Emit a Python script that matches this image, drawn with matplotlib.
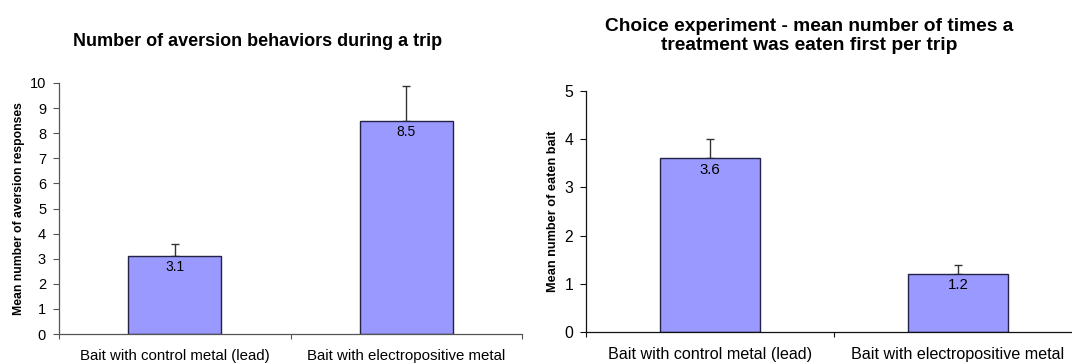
import numpy as np
import matplotlib.pyplot as plt

plt.rcParams['font.family'] = ['Liberation Sans', 'DejaVu Sans']

categories = ['Bait with control metal (lead)', 'Bait with electropositive metal']

aversion_means = [3.1, 8.5]
aversion_err = [0.5, 1.4]

eaten_means = [3.6, 1.2]
eaten_err = [0.4, 0.2]

W, H = 1072, 363
fig = plt.figure(figsize=(W / 100, H / 100), dpi=100)


def px_axes(x0, x1, y0, y1):
    # pixel box -> figure fraction
    return fig.add_axes([x0 / W, 1 - y1 / H, (x1 - x0) / W, (y1 - y0) / H])


def draw(ax, means, err, ymax, fs, xfs, spine_col):
    x = np.arange(len(means))
    ax.bar(x, means, width=0.4, color='#9999FF', edgecolor='#222244', linewidth=1.0, zorder=2)
    ax.errorbar(x, means, yerr=[np.zeros(len(err)), err], fmt='none', ecolor='#333333',
                elinewidth=1.0, capsize=3, capthick=1.0, zorder=1)
    for xi, m in zip(x, means):
        ax.annotate(f'{m:.1f}', (xi, m), xytext=(0, -3), textcoords='offset points',
                    ha='center', va='top', fontsize=fs - 0.5, zorder=3)
    ax.set_xlim(-0.5, len(means) - 0.5)
    ax.set_ylim(0, ymax)
    ax.set_yticks(range(0, ymax + 1))
    ax.tick_params(axis='y', labelsize=fs, length=4.3, width=0.8, direction='out', pad=5,
                   color=spine_col)
    ax.set_xticks(x)
    ax.set_xticklabels(categories, fontsize=xfs)
    ax.tick_params(axis='x', length=0, pad=10.5)
    ax.set_xticks([-0.5, 0.5, 1.5], minor=True)
    ax.tick_params(axis='x', which='minor', length=3.6, width=0.8, direction='out',
                   color=spine_col)
    for s in ['top', 'right']:
        ax.spines[s].set_visible(False)
    for s in ['left', 'bottom']:
        ax.spines[s].set_color(spine_col)
        ax.spines[s].set_linewidth(0.9)


ax1 = px_axes(59, 522, 83, 334)
draw(ax1, aversion_means, aversion_err, 10, 10.5, 10.8, '#555555')
ax1.set_ylabel('Mean number of aversion responses', fontsize=8.8, fontweight='bold')
ax1.yaxis.set_label_coords((25 - 59) / 463, 0.5)

ax2 = px_axes(586, 1082, 91, 332)
draw(ax2, eaten_means, eaten_err, 5, 11.3, 11.6, '#111111')
ax2.set_ylabel('Mean number of eaten bait', fontsize=9.2, fontweight='bold')
ax2.yaxis.set_label_coords((559 - 586) / 496, 0.5)

fig.text(258 / W, 1 - 42 / H, 'Number of aversion behaviors during a trip',
         ha='center', va='center', fontsize=13.0, fontweight='bold')
fig.text(809 / W, 1 - 36 / H, 'Choice experiment - mean number of times a\ntreatment was eaten first per trip',
         ha='center', va='center', fontsize=13.8, fontweight='bold', linespacing=1.2)

fig.savefig('out.png', dpi=100)
